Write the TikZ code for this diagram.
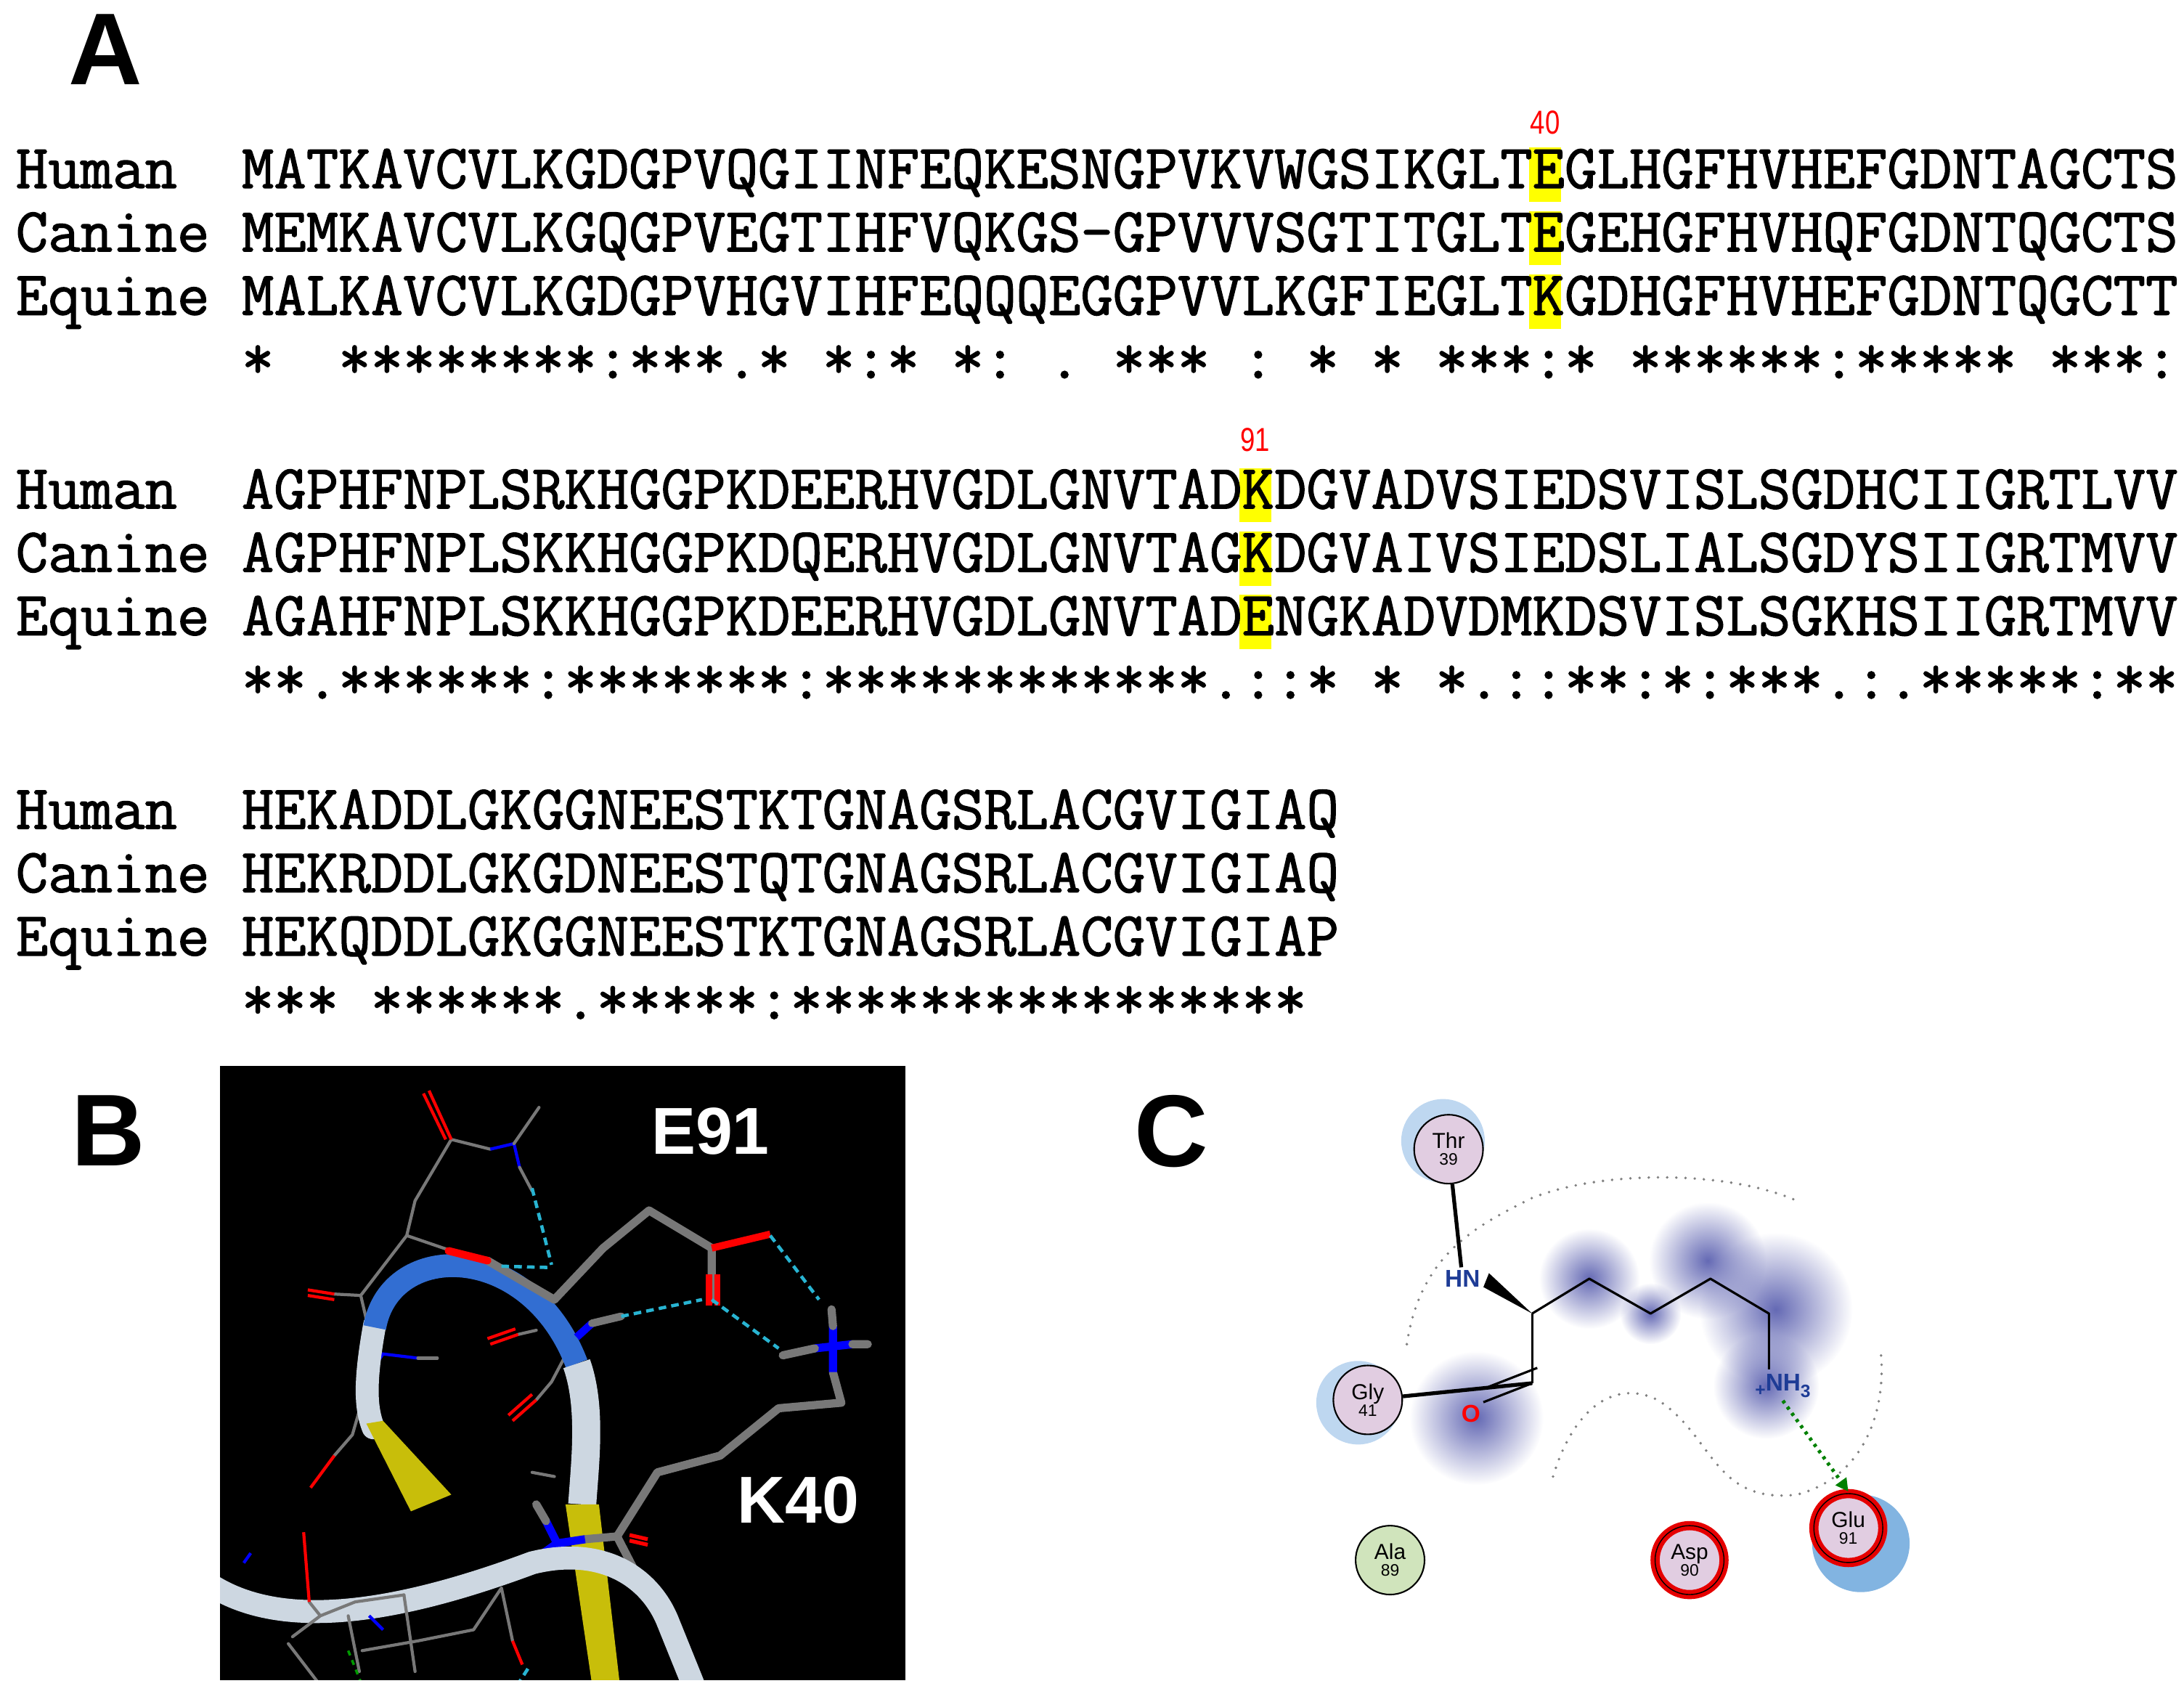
\documentclass[tikz,border=0pt]{standalone}
\usepackage{fontspec}
\setmainfont{Liberation Sans}
\newfontfamily\seqfont{Latin Modern Mono}[FakeBold=1.6]
\usetikzlibrary{fadings,arrows.meta}
\definecolor{hl}{RGB}{255,255,0}
\definecolor{resfill}{RGB}{225,205,225}
\definecolor{alafill}{RGB}{208,228,188}
\definecolor{halo}{RGB}{190,215,240}
\definecolor{haloB}{RGB}{130,180,225}
\definecolor{blob}{RGB}{100,105,180}
\definecolor{nblue}{RGB}{30,60,150}
\definecolor{stick}{RGB}{120,120,120}
\definecolor{ribblue}{RGB}{50,110,210}
\definecolor{ribwhite}{RGB}{205,215,225}
\definecolor{ribyel}{RGB}{200,190,10}
\definecolor{hb}{RGB}{40,180,210}
\tikzfading[name=fuzzy, inner color=transparent!0, outer color=transparent!100]
\tikzset{
  seq/.style={anchor=base west, inner sep=0pt, font=\seqfont\fontsize{24.55pt}{25pt}\selectfont\frenchspacing},
  num/.style={text=red, inner sep=0pt, font=\fontsize{13pt}{14pt}\selectfont, xscale=0.8},
  panel/.style={anchor=north west, inner sep=0pt, font=\bfseries\fontsize{40pt}{44pt}\selectfont},
  res/.style={circle, draw=black, line width=0.6pt, fill=resfill, minimum size=27pt, inner sep=0pt, align=center, font=\fontsize{8.5pt}{8.5pt}\selectfont},
  redres/.style={res, draw=red!90!black, line width=1.6pt, double=black, double distance=0.4pt},
  lbl/.style={text=white, font=\bfseries\fontsize{26pt}{28pt}\selectfont, inner sep=0pt},
  atomN/.style={text=nblue, font=\bfseries\fontsize{9.5pt}{10pt}\selectfont, inner sep=1pt},
  gdot/.style={draw=gray, line width=1.1pt, line cap=round, dash pattern=on 0pt off 3.6pt},
  thick stick/.style={draw=stick, line width=3.2pt, line cap=round, line join=round},
  thin stick/.style={draw=stick, line width=1.2pt, line cap=round, line join=round},
  hbond/.style={draw=hb, line width=1.3pt, dash pattern=on 3pt off 2pt},
}
\newcommand{\hlbox}[2]{\fill[hl] ({173+(#1-1)*23.12},{#2-29}) rectangle ++(23.12,39);}
\newcommand{\resnum}[1]{{\fontsize{6.5pt}{6.5pt}\selectfont #1}}
\begin{document}
\begin{tikzpicture}[x=0.01918cm,y=-0.01918cm]
\useasboundingbox (0,0) rectangle (1568,1216);
% ---------- Panel A ----------
\node[panel] (pA) at (49,10) {A};
\foreach \y in {135,180.5,226} {\hlbox{41}{\y}}
\foreach \y in {365,410.5,456} {\hlbox{32}{\y}}
\node[num] (n40) at ({173+40.5*23.12},88) {40};
\node[num] (n91) at ({173+31.5*23.12},316) {91};
% block 1
\node[seq] (h1) at (11,135) {Human~~MATKAVCVLKGDGPVQGIINFEQKESNGPVKVWGSIKGLTEGLHGFHVHEFGDNTAGCTS};
\node[seq] (c1) at (11,180.5) {Canine~MEMKAVCVLKGQGPVEGTIHFVQKGS-GPVVVSGTITGLTEGEHGFHVHQFGDNTQGCTS};
\node[seq] (e1) at (11,226) {Equine~MALKAVCVLKGDGPVHGVIHFEQQQEGGPVVLKGFIEGLTKGDHGFHVHEFGDNTQGCTT};
\node[seq] (s1) at (11,271.5) {~~~~~~~*~~********:***.*~*:*~*:~.~***~:~*~*~***:*~******:*****~***:};
% block 2
\node[seq] (h2) at (11,365) {Human~~AGPHFNPLSRKHGGPKDEERHVGDLGNVTADKDGVADVSIEDSVISLSGDHCIIGRTLVV};
\node[seq] (c2) at (11,410.5) {Canine~AGPHFNPLSKKHGGPKDQERHVGDLGNVTAGKDGVAIVSIEDSLIALSGDYSIIGRTMVV};
\node[seq] (e2) at (11,456) {Equine~AGAHFNPLSKKHGGPKDEERHVGDLGNVTADENGKADVDMKDSVISLSGKHSIIGRTMVV};
\node[seq] (s2) at (11,501.5) {~~~~~~~**.******:*******:************.::*~*~*.::**:*:***.:.*****:**};
% block 3
\node[seq] (h3) at (11,595) {Human~~HEKADDLGKGGNEESTKTGNAGSRLACGVIGIAQ};
\node[seq] (c3) at (11,640.5) {Canine~HEKRDDLGKGDNEESTQTGNAGSRLACGVIGIAQ};
\node[seq] (e3) at (11,686) {Equine~HEKQDDLGKGGNEESTKTGNAGSRLACGVIGIAP};
\node[seq] (s3) at (11,731.5) {~~~~~~~***~******.*****:****************};
% ---------- Panel B ----------
\node[panel] (pB) at (51,786) {B};
\fill[black] (158,765) rectangle (650,1206);
\begin{scope}
\clip (158,765) rectangle (650,1206);
\draw[thin stick] (324,818) -- (298,862) -- (292,887) -- (259,930) -- (266,960);
\draw[thin stick] (292,887) -- (330,900);
\draw[thin stick] (324,818) -- (352,825);
\draw[draw=blue,line width=1.2pt] (352,825) -- (369,821) -- (373,838);
\draw[thin stick] (369,821) -- (387,795);
\draw[thin stick] (373,838) -- (382,855);
\draw[red,line width=1.2pt] (324,818) -- (308,783) (320,818) -- (304,785);
\draw[thin stick] (259,930) -- (240,929);
\draw[red,line width=1.2pt] (240,929) -- (221,926) (240,933) -- (221,930);
\draw[thin stick] (266,985) -- (253,1030) -- (240,1045);
\draw[red,line width=1.2pt] (240,1045) -- (223,1068);
\draw[draw=blue,line width=1.2pt] (266,985) -- (275,972) -- (300,975);
\draw[thin stick] (300,975) -- (314,975);
\draw[thin stick] (396,992) -- (405,975) (396,992) -- (385,1005);
\draw[red,line width=1.2pt] (385,1005) -- (368,1020) (382,1001) -- (365,1016);
\draw[thin stick] (372,958) -- (385,955);
\draw[red,line width=1.2pt] (372,958) -- (352,965) (370,954) -- (350,961);
\draw[thin stick] (382,1057) -- (398,1060);
\draw[ribwhite, line width=9pt, line cap=round] (269,951) .. controls (262,990) and (262,1010) .. (268,1025);
\fill[ribyel] (263,1022) -- (275,1020) -- (324,1073) -- (295,1085) -- cycle;
\draw[ribblue, line width=9pt] (269,953) .. controls (280,890) and (380,890) .. (414,979);
\draw[ribwhite, line width=11pt] (414,979) .. controls (425,1010) and (420,1050) .. (418,1080);
\fill[ribyel] (406,1080) -- (430,1080) -- (445,1209) -- (425,1209) -- cycle;
\draw[thick stick] (398,933) -- (433,896) -- (466,869) -- (511,896) -- (511,933);
\draw[thick stick] (398,933) -- (350,905);
\draw[red,line width=3pt,line cap=round] (350,905) -- (322,898);
\draw[red,line width=2.8pt] (511,896) -- (553,886);
\draw[red,line width=2.5pt] (509,915) -- (509,937) (515,915) -- (515,937);
\draw[draw=blue,line width=3pt] (414,960) -- (425,950);
\draw[draw=stick,line width=3pt,line cap=round] (425,950) -- (446,945);
\draw[thick stick] (443,1103) -- (472,1057) -- (517,1045) -- (559,1011) -- (604,1007) -- (598,985);
\draw[draw=blue,line width=3.2pt] (598,985) -- (598,952) (585,968) -- (612,965);
\draw[thick stick] (598,952) -- (597,940) (612,965) -- (623,965) (585,968) -- (562,973);
\draw[thick stick] (443,1103) -- (420,1105);
\draw[draw=blue,line width=3.2pt] (420,1105) -- (400,1108) -- (383,1120) (400,1108) -- (392,1092);
\draw[thick stick] (392,1092) -- (385,1080);
\draw[thick stick] (443,1103) -- (475,1165) -- (485,1180);
\draw[red,line width=3pt] (485,1180) -- (492,1190);
\draw[red,line width=1.5pt] (452,1102) -- (465,1105) (452,1106) -- (465,1109);
\draw[ribwhite, line width=9pt] (150,1137) .. controls (200,1170) and (280,1160) .. (382,1122) .. controls (430,1110) and (465,1130) .. (479,1163) -- (500,1215);
\draw[thin stick] (222,1150) -- (230,1160) -- (210,1175) (230,1160) -- (255,1150) -- (290,1145);
\draw[red,line width=1.2pt] (222,1150) -- (218,1100);
\draw[thin stick] (290,1145) -- (298,1200) (260,1185) -- (300,1178) -- (340,1170) -- (360,1140) -- (368,1178);
\draw[red,line width=1.2pt] (368,1178) -- (375,1195);
\draw[thin stick] (207,1180) -- (230,1210) (250,1160) -- (258,1200);
\draw[draw=blue,line width=1.2pt] (265,1160) -- (275,1170) (175,1122) -- (180,1115);
\draw[hbond] (379,1198) -- (368,1215);
\draw[draw=green!60!black,line width=1pt,dash pattern=on 2pt off 2pt] (250,1185) -- (260,1210);
\draw[hbond] (553,887) -- (588,933);
\draw[hbond] (511,933) -- (559,968);
\draw[hbond] (446,945) -- (504,933);
\draw[hbond] (382,853) -- (396,908);
\draw[hbond] (360,909) -- (396,910);
\node[lbl] (E91) at (510,812) {E91};
\node[lbl] (K40) at (573,1077) {K40};
\end{scope}
% ---------- Panel C ----------
\node[panel] (pC) at (814,786) {C};
\fill[halo] (1036,819) circle (30);
\fill[halo] (975,1007) circle (30);
\fill[haloB] (1336,1108) circle (35);
\foreach \cx/\cy/\r in {1141/918/36, 1185/943/22, 1226/905/42, 1275/940/55, 1268/995/38, 1060/1018/48}
  \fill[blob, path fading=fuzzy] (\cx,\cy) circle (\r);
\draw[gdot] (1010,965) .. controls (1020,900) and (1060,880) .. (1100,860) .. controls (1150,840) and (1240,840) .. (1290,862);
\draw[gdot] (1115,1060) .. controls (1130,1010) and (1160,990) .. (1190,1005) .. controls (1230,1030) and (1230,1080) .. (1290,1073) .. controls (1340,1060) and (1355,1010) .. (1350,968);
\coordinate (CA) at (1100,943);
\coordinate (C1) at (1141,918);
\coordinate (C2) at (1185,943);
\coordinate (C3) at (1228,918);
\coordinate (C4) at (1270,943);
\coordinate (C5) at (1270,983);
\coordinate (CC) at (1100,993);
\node[atomN] (HN) at (1050,918) {HN};
\node[atomN] (NH3) at (1280,995) {{\fontsize{7pt}{7pt}\selectfont\raisebox{-2pt}{+}}NH\raisebox{-2.5pt}{\fontsize{7pt}{7pt}\selectfont 3}};
\node[text=red, font=\bfseries\fontsize{9.5pt}{10pt}\selectfont, inner sep=1pt] (O) at (1056,1015) {O};
\draw[line width=0.9pt, line join=round] (CA) -- (C1) -- (C2) -- (C3) -- (C4) -- (C5);
\draw[line width=0.9pt] (CA) -- (CC);
\draw[line width=0.9pt] (CC) -- (O.north east);
\draw[line width=0.9pt] ([xshift=2,yshift=6]CC) -- ([xshift=2,yshift=6]O.north east);
\fill (CA) -- (1065,924) -- (1069,914) -- cycle;
\node[res] (Thr) at (1040,825) {Thr\\[-2pt]\resnum{39}};
\node[res] (Gly) at (982,1005) {Gly\\[-2pt]\resnum{41}};
\node[res, fill=alafill] (Ala) at (998,1120) {Ala\\[-2pt]\resnum{89}};
\node[redres] (Asp) at (1213,1120) {Asp\\[-2pt]\resnum{90}};
\node[redres] (Glu) at (1327,1097) {Glu\\[-2pt]\resnum{91}};
\draw[line width=1.5pt] (Thr) -- (HN);
\draw[line width=1.5pt] (Gly) -- (CC);
\draw[draw=green!50!black, line width=1.4pt, dash pattern=on 1.2pt off 1.8pt, -{Triangle[length=5pt,width=5pt]}] (NH3.south) -- (Glu.north);
\end{tikzpicture}
\end{document}
